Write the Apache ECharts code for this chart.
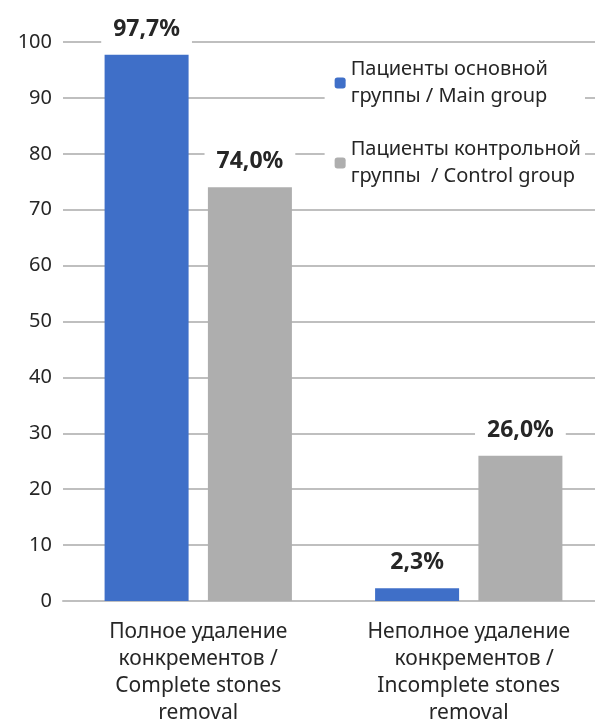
<!DOCTYPE html>
<html><head><meta charset="utf-8">
<script src="https://cdn.jsdelivr.net/npm/echarts@6/dist/echarts.min.js"></script>
<style>html,body{margin:0;padding:0;background:#fff;overflow:hidden}#c{width:595px;height:722px}</style>
</head><body><div id="c"></div>
<script>
const categories = [
  'Полное удаление\nконкрементов /\nComplete stones\nremoval',
  'Неполное удаление\n  конкрементов /\nIncomplete stones\nremoval'
];
const seriesNames = ['Пациенты основной\nгруппы / Main group', 'Пациенты контрольной\nгруппы  / Control group'];
const mainGroup = [97.7, 2.3];
const controlGroup = [74.0, 26.0];
const yTicks = {min: 0, max: 100, interval: 10};

const FONT = 'Noto Sans';
const chart = echarts.init(document.getElementById('c'));
const labelCfg = {
  show: true, position: 'top', distance: 10,
  formatter: p => p.value.toFixed(1).replace('.', ',') + '%',
  fontFamily: FONT, fontWeight: 'bold', fontSize: 23, color: '#262626',
  backgroundColor: '#fff', padding: [4, 12]
};
chart.setOption({
  animation: false,
  textStyle: {fontFamily: FONT},
  grid: {left: 63, right: -9, top: 42, bottom: 121, containLabel: false, outerBoundsMode: 'none'},
  legend: {
    orient: 'vertical', right: 10, top: 50, itemWidth: 11, itemHeight: 11, itemGap: 26,
    backgroundColor: '#fff', padding: [6, 4, 6, 10],
    textStyle: {fontFamily: FONT, fontSize: 20, color: '#262626', lineHeight: 27},
    data: seriesNames
  },
  xAxis: {
    type: 'category', data: categories,
    axisLine: {lineStyle: {color: '#bfbfbf', width: 2}},
    axisTick: {show: false},
    axisLabel: {fontFamily: FONT, fontSize: 21, color: '#262626', lineHeight: 27, margin: 18, interval: 0}
  },
  yAxis: {
    type: 'value', min: yTicks.min, max: yTicks.max, interval: yTicks.interval,
    axisLine: {show: false}, axisTick: {show: false},
    axisLabel: {fontFamily: FONT, fontSize: 20, color: '#262626', margin: 11},
    splitLine: {lineStyle: {color: '#bfbfbf', width: 2}}
  },
  series: [
    {name: seriesNames[0], type: 'bar', data: mainGroup, barWidth: 84, barGap: '23%',
     itemStyle: {color: '#3f6fc8'}, label: labelCfg},
    {name: seriesNames[1], type: 'bar', data: controlGroup, barWidth: 84,
     itemStyle: {color: '#aeaeae'}, label: labelCfg}
  ]
});
</script></body></html>
